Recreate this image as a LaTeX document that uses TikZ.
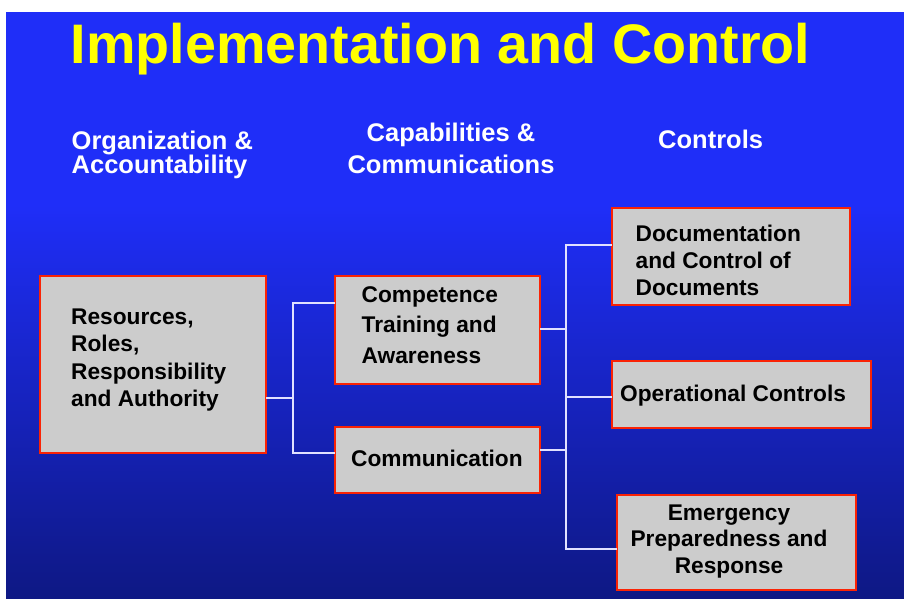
\documentclass[tikz,border=0pt]{standalone}
\usepackage{fontspec}
\setmainfont{Liberation Sans}
\definecolor{ltblue}{RGB}{31,46,248}
\definecolor{dkblue}{RGB}{14,24,132}
\definecolor{boxred}{RGB}{250,35,5}
\definecolor{boxgrey}{RGB}{204,204,204}
\definecolor{linecol}{RGB}{225,225,255}
\definecolor{titleyellow}{RGB}{255,255,0}
\begin{document}
\begin{tikzpicture}[x=1pt,y=-1pt,
  stepbox/.style={draw=boxred, line width=2.8pt, fill=boxgrey, inner sep=0pt},
  boxtext/.style={inner sep=0pt, text=black, font=\bfseries\fontsize{22.7}{27.5}\selectfont},
  headtext/.style={inner sep=0pt, text=white, font=\bfseries\fontsize{25.5}{24}\selectfont},
  conn/.style={draw=linecol, line width=2pt}]
\useasboundingbox (0,0) rectangle (904,598);
\fill[white] (0,0) rectangle (904,598);
\fill[ltblue] (6,12) rectangle (904,206);
\shade[top color=ltblue, bottom color=dkblue] (6,205) rectangle (904,598);

% title
\node[anchor=base west, inner sep=0pt, text=titleyellow, font=\bfseries\fontsize{55.7}{60}\selectfont] (title) at (70.5,63) {Implementation and Control};

% column headers
\node[headtext, anchor=base west, align=left] (h1) at (71.5,173) {Organization \&\\Accountability};
\node[headtext, anchor=base, align=center, font=\bfseries\fontsize{25.5}{32}\selectfont] (h2) at (451,173) {Capabilities \&\\Communications};
\node[headtext, anchor=base west] (h3) at (658,148) {Controls};

% boxes
\path[stepbox] (40,276) rectangle (266,453);
\node[minimum width=226pt, minimum height=177pt, inner sep=0pt] (res) at (153,364.5) {};
\path[stepbox] (335,276) rectangle (540,384);
\node[minimum width=205pt, minimum height=108pt, inner sep=0pt] (comp) at (437.5,330) {};
\path[stepbox] (335,427) rectangle (540,493);
\node[minimum width=205pt, minimum height=66pt, inner sep=0pt] (comm) at (437.5,460) {};
\path[stepbox] (612,208) rectangle (850,305);
\node[minimum width=238pt, minimum height=97pt, inner sep=0pt] (doc) at (731,256.5) {};
\path[stepbox] (612,361) rectangle (871,428);
\node[minimum width=259pt, minimum height=67pt, inner sep=0pt] (ops) at (741.5,394.5) {};
\path[stepbox] (617,495) rectangle (856,590);
\node[minimum width=239pt, minimum height=95pt, inner sep=0pt] (emg) at (736.5,542.5) {};

% box texts (base anchor = baseline of the last line)
\node[boxtext, anchor=base west, align=left] (rest) at (71,406.7) {Resources,\\Roles,\\Responsibility\\and Authority};
\node[boxtext, anchor=base west, align=left, font=\bfseries\fontsize{22.7}{30.2}\selectfont] (compt) at (361.5,363) {Competence\\Training and\\Awareness};
\node[boxtext, anchor=base west] (commt) at (351,466.7) {Communication};
\node[boxtext, anchor=base west, align=left, font=\bfseries\fontsize{22.7}{26.7}\selectfont] (doct) at (635.5,295) {Documentation\\and Control of\\Documents};
\node[boxtext, anchor=base west] (opst) at (620,401.7) {Operational Controls};
\node[boxtext, anchor=base, align=center, font=\bfseries\fontsize{22.7}{26.4}\selectfont] (emgt) at (729,573.3) {Emergency\\Preparedness and\\Response};

% connectors
\coordinate (L) at (293,398);
\coordinate (Ltop) at (293,303);
\coordinate (Lbot) at (293,453);
\coordinate (Rtop) at (566,245);
\coordinate (Rbot) at (566,549);
\coordinate (Rops) at (566,397);
\coordinate (Rcomp) at (566,329);
\coordinate (Rcomm) at (566,450);
\draw[conn] (res.east |- L) -- (L);
\draw[conn] (comp.west |- Ltop) -- (Ltop) -- (Lbot) -- (comm.west |- Lbot);
\draw[conn] (doc.west |- Rtop) -- (Rtop) -- (Rbot) -- (emg.west |- Rbot);
\draw[conn] (Rops) -- (ops.west |- Rops);
\draw[conn] (comp.east |- Rcomp) -- (Rcomp);
\draw[conn] (comm.east |- Rcomm) -- (Rcomm);
\end{tikzpicture}
\end{document}
